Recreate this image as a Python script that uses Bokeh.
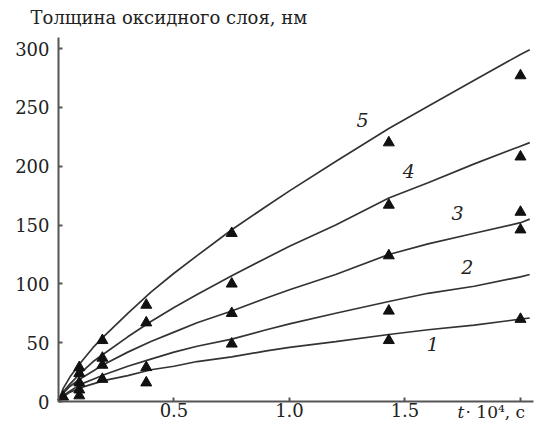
from bokeh.plotting import figure
from bokeh.models import Label, FixedTicker, PrintfTickFormatter
from bokeh.embed import file_html
from bokeh.resources import INLINE

# Fitted curves, t * 10^4 s vs thickness nm
t_curve = [0, 0.02, 0.05, 0.1, 0.15, 0.2, 0.3, 0.4, 0.5, 0.6, 0.75, 0.9, 1.0, 1.2, 1.43, 1.6, 1.8, 2.0, 2.04]
curve_1 = [0, 4, 8, 12, 15, 18, 22, 27, 30, 34, 38, 43, 46, 51, 57, 61, 65, 70, 71]
curve_2 = [0, 5, 9, 15, 19, 23, 30, 36, 42, 47, 53, 61, 66, 75, 85, 92, 98, 106, 108]
curve_3 = [0, 7, 13, 20, 26, 32, 42, 51, 59, 67, 77, 88, 95, 108, 125, 134, 143, 152, 155]
curve_4 = [0, 8, 15, 25, 34, 41, 55, 68, 80, 91, 107, 122, 132, 150, 173, 186, 202, 217, 220]
curve_5 = [0, 11, 21, 34, 46, 56, 75, 93, 109, 124, 146, 166, 179, 204, 232, 251, 273, 295, 299]

# Measured points (triangles)
pts_1_t = [0.02, 0.09, 0.19, 0.38, 1.43, 2.0]
pts_1_y = [4, 5, 19, 16, 52, 70]
pts_2_t = [0.09, 0.38, 0.75, 1.43, 2.0]
pts_2_y = [10, 29, 49, 77, 146]
pts_3_t = [0.09, 0.19, 0.75, 1.43, 2.0]
pts_3_y = [16, 31, 75, 124, 161]
pts_4_t = [0.09, 0.19, 0.38, 0.75, 1.43, 2.0]
pts_4_y = [24, 37, 67, 100, 167, 208]
pts_5_t = [0.09, 0.19, 0.38, 0.75, 1.43, 2.0]
pts_5_y = [29, 52, 82, 143, 220, 277]

curve_names = ["1", "2", "3", "4", "5"]
name_t = [1.62, 1.77, 1.727, 1.517, 1.316]
name_y = [49, 114, 160, 196, 239]

x_ticks = [0.5, 1.0, 1.5, 2.0]
y_ticks = [0, 50, 100, 150, 200, 250, 300]
title_text = "Толщина оксидного слоя, нм"

SERIF = "DejaVu Serif"
INK = "#222222"

p = figure(width=541, height=430, output_backend="svg", toolbar_location=None,
           x_range=(-0.2511, 2.091), y_range=(-24.6, 340.8),
           min_border=0)
p.title.visible = False
p.outline_line_color = None
p.xgrid.visible = False
p.ygrid.visible = False

for ys in [curve_1, curve_2, curve_3, curve_4, curve_5]:
    p.line(t_curve, ys, line_color="#333333", line_width=1.7)

for tx, ty in [(pts_1_t, pts_1_y), (pts_2_t, pts_2_y), (pts_3_t, pts_3_y),
               (pts_4_t, pts_4_y), (pts_5_t, pts_5_y)]:
    p.scatter(tx, ty, marker="triangle", size=11, fill_color="#111111", line_color="#111111")

for nm, tx, ty in zip(curve_names, name_t, name_y):
    p.add_layout(Label(x=tx, y=ty, text=nm, text_font=SERIF, text_font_style="italic",
                       text_font_size="19px", text_color=INK, text_align="center",
                       text_baseline="middle"))

for ax in (p.xaxis[0], p.yaxis[0]):
    ax.fixed_location = 0
    ax.axis_line_color = "#555555"
    ax.axis_line_width = 2
    ax.major_tick_line_color = "#555555"
    ax.major_tick_line_width = 2
    ax.major_tick_in = 4
    ax.major_tick_out = 0
    ax.minor_tick_line_color = None
    ax.major_label_text_font = SERIF
    ax.major_label_text_font_size = "18px"
    ax.major_label_text_color = INK
p.xaxis.major_label_standoff = 1
p.yaxis.major_label_standoff = 9

p.xaxis.bounds = (0, 2.056)
p.yaxis.bounds = (0, 309)
p.xaxis.ticker = FixedTicker(ticks=x_ticks)
p.xaxis.formatter = PrintfTickFormatter(format="%.1f")
p.xaxis.major_label_overrides = {2.0: "", 2: ""}
p.yaxis.ticker = FixedTicker(ticks=y_ticks)

p.add_layout(Label(x=-0.121, y=326, text=title_text, text_font=SERIF,
                   text_font_size="18px", text_color=INK, text_baseline="middle"))
p.add_layout(Label(x=1.727, y=-9, text="t", text_font=SERIF, text_font_style="italic",
                   text_font_size="17px", text_color=INK, text_baseline="middle"))
p.add_layout(Label(x=1.762, y=-9, text="· 10⁴, с", text_font=SERIF,
                   text_font_size="17px", text_color=INK, text_baseline="middle"))

open("out.html", "w").write(file_html(p, INLINE))
